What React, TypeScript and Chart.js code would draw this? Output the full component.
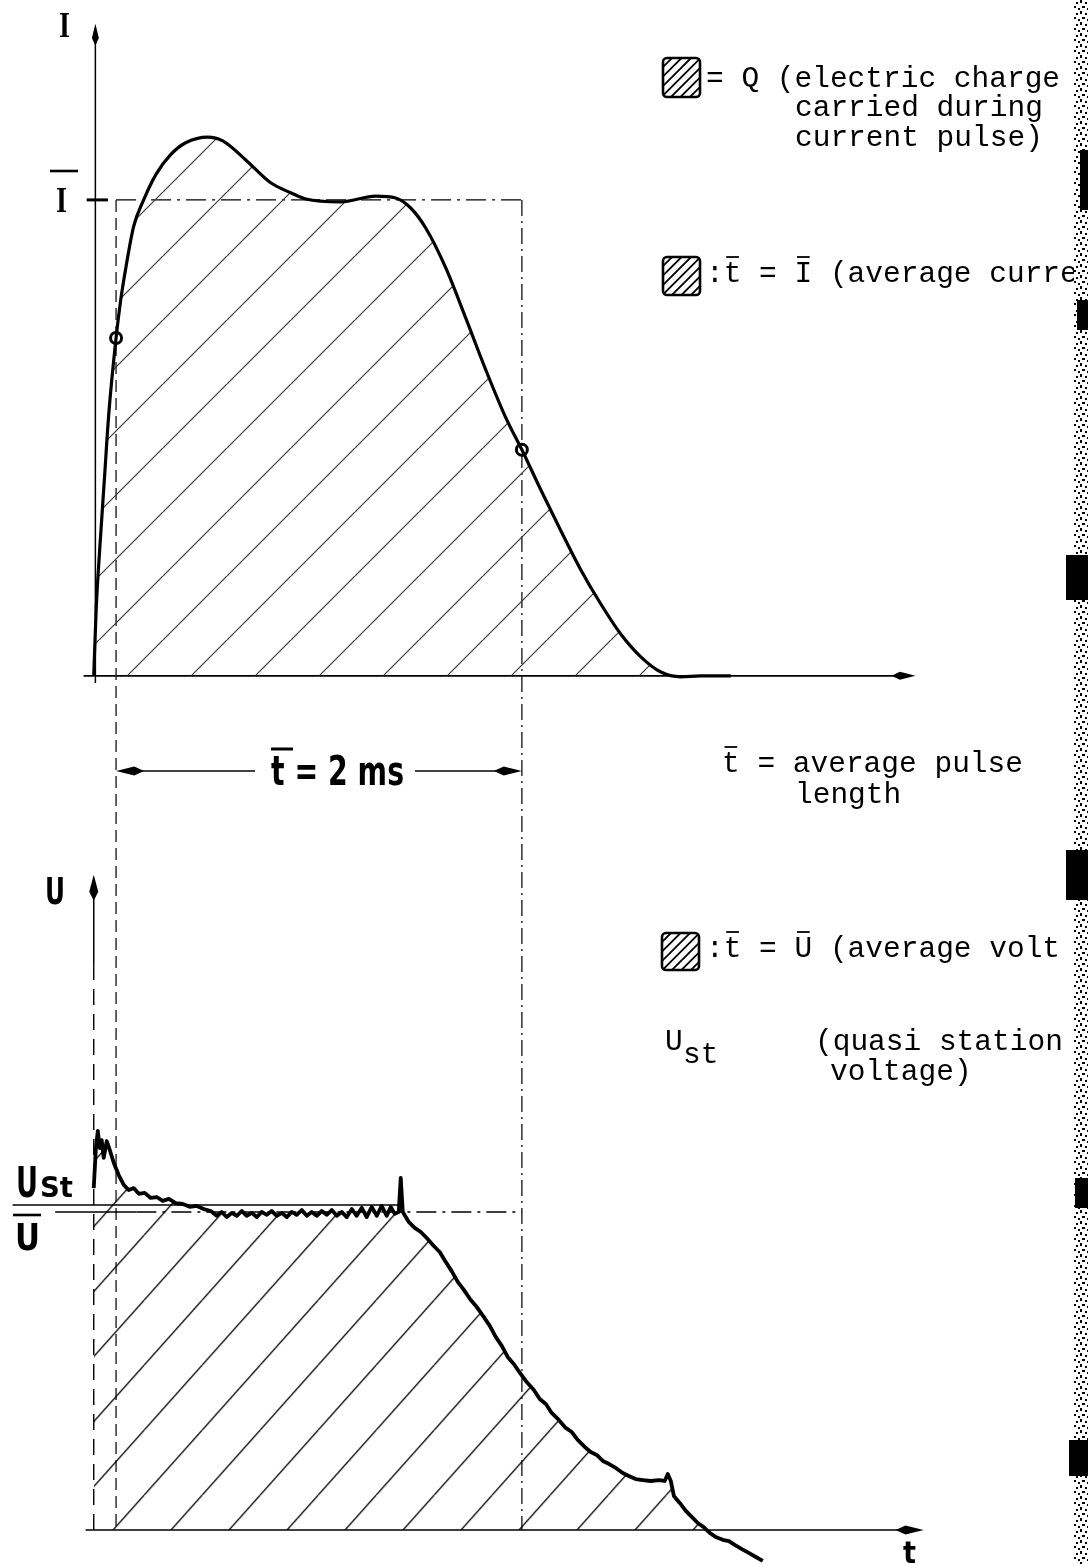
import React, { useEffect, useRef } from "react";
import { Chart, registerables } from "chart.js";

Chart.register(...registerables);

// ---------------- data (t in ms, I and U normalised to their averages) ----------------
const currentT = [0, 0.012, 0.03, 0.052, 0.074, 0.11, 0.133, 0.158, 0.197, 0.246, 0.306, 0.379, 0.453, 0.562, 0.636, 0.749, 0.872, 0.971, 1.045, 1.217, 1.39, 1.488, 1.562, 1.636, 1.735, 1.833, 1.932, 2.031, 2.11, 2.203, 2.302, 2.4, 2.499, 2.597, 2.696, 2.795, 2.893, 2.992, 3.14];
const currentI = [0, 0.14, 0.27, 0.41, 0.55, 0.71, 0.79, 0.857, 0.945, 1.0, 1.053, 1.095, 1.12, 1.132, 1.124, 1.084, 1.036, 1.015, 1.002, 0.996, 1.008, 1.004, 0.983, 0.941, 0.857, 0.752, 0.643, 0.542, 0.475, 0.391, 0.305, 0.223, 0.151, 0.088, 0.04, 0.008, -0.002, 0, 0];

const voltageT = [0, 0.01, 0.02, 0.03, 0.039, 0.049, 0.064, 0.079, 0.099, 0.123, 0.148, 0.172, 0.197, 0.222, 0.251, 0.281, 0.31, 0.34, 0.37, 0.404, 0.439, 0.473, 0.508, 0.542, 0.577,
  0.606, 0.631, 0.655, 0.68, 0.705, 0.729, 0.754, 0.779, 0.803, 0.828, 0.853, 0.877, 0.902, 0.927, 0.951, 0.976, 1.0, 1.025, 1.05, 1.074, 1.099, 1.124, 1.148, 1.173, 1.198, 1.222, 1.247, 1.272, 1.296, 1.321, 1.345, 1.37, 1.395, 1.419, 1.444, 1.464, 1.483, 1.503, 1.513, 1.523,
  1.552, 1.582, 1.612, 1.641, 1.676, 1.705, 1.735, 1.764, 1.794, 1.824, 1.858, 1.888, 1.922, 1.952, 1.981, 2.011, 2.04, 2.07, 2.104, 2.134, 2.169, 2.198, 2.228, 2.257, 2.292, 2.326, 2.356, 2.385, 2.42, 2.449, 2.479, 2.509, 2.538, 2.573, 2.607, 2.637, 2.671, 2.706, 2.745, 2.785, 2.814, 2.829, 2.844, 2.859, 2.888, 2.918, 2.947, 2.977, 3.006, 3.036, 3.065, 3.1, 3.13, 3.159, 3.194, 3.228, 3.263, 3.297];
const voltageU = [1.075, 1.195, 1.255, 1.201, 1.226, 1.17, 1.223, 1.195, 1.154, 1.116, 1.085, 1.069, 1.075, 1.057, 1.06, 1.044, 1.047, 1.035, 1.041, 1.028, 1.025, 1.016, 1.019, 1.009, 1.003,
  0.988, 1.0, 0.984, 0.997, 0.988, 1.003, 0.988, 0.997, 0.984, 1.0, 0.991, 1.003, 0.988, 0.997, 0.984, 1.0, 0.991, 1.006, 0.988, 1.0, 0.988, 1.003, 0.991, 1.006, 0.988, 1.0, 0.984, 1.009, 0.988, 1.013, 0.984, 1.016, 0.988, 1.019, 0.988, 1.016, 0.994, 1.0, 1.107, 1.0,
  0.969, 0.95, 0.937, 0.918, 0.893, 0.874, 0.843, 0.814, 0.78, 0.755, 0.723, 0.701, 0.67, 0.642, 0.607, 0.579, 0.544, 0.522, 0.491, 0.465, 0.44, 0.412, 0.396, 0.368, 0.346, 0.321, 0.308, 0.283, 0.261, 0.245, 0.236, 0.217, 0.208, 0.195, 0.179, 0.17, 0.16, 0.157, 0.154, 0.157, 0.154, 0.176, 0.154, 0.107, 0.085, 0.06, 0.041, 0.022, 0.009, -0.009, -0.022, -0.031, -0.035, -0.047, -0.06, -0.072, -0.085, -0.097];

const markerT = [0.11, 2.11];
const markerI = [0.71, 0.475];

const PULSE_START = 0.11; // ms
const PULSE_END = 2.11; // ms  (t̄ = 2 ms)
const I_AVG = 1.0;
const U_AVG = 1.0;
const U_ST = 1.022;

// axis ranges
const T_MIN = -0.462;
const T_MAX = 4.9;
const I_MIN = -1.866;
const I_MAX = 1.42;
const U_MIN = -0.107;
const U_MAX = 4.811;

// text
const DIM_LABEL = "t = 2 ms";
const LEGEND_Q = ["= Q (electric charge", "carried during", "current pulse)"];
const LEGEND_I = ":t = I (average current)";
const LEGEND_T = ["t = average pulse", "length"];
const LEGEND_U = ":t = U (average voltage)";
const LEGEND_UST = ["(quasi stationary", "voltage)"];

const MONO = '29.5px "Liberation Mono", "DejaVu Sans Mono", monospace';
const CH = 17.7;

function makeHatch(w: number, h: number, color: string, lw: number, dx: number) {
  const c = document.createElement("canvas");
  c.width = w;
  c.height = h;
  const g = c.getContext("2d")!;
  g.strokeStyle = color;
  g.lineWidth = lw;
  for (const o of [-w, 0, w]) {
    g.beginPath();
    g.moveTo(o, h);
    g.lineTo(o + w, 0);
    g.stroke();
  }
  const p = g.createPattern(c, "repeat")!;
  try {
    p.setTransform(new DOMMatrix([1, 0, 0, 1, dx, 0]));
  } catch (e) {}
  return p;
}

function makeSpeckle() {
  const c = document.createElement("canvas");
  c.width = 9;
  c.height = 11;
  const g = c.getContext("2d")!;
  g.fillStyle = "#000";
  g.fillRect(0, 0, 2, 3);
  g.fillRect(5, 2, 2, 2);
  g.fillRect(2, 6, 3, 2);
  g.fillRect(7, 8, 2, 2);
  return g.createPattern(c, "repeat")!;
}

function seg(ctx: CanvasRenderingContext2D, x1: number, y1: number, x2: number, y2: number, w: number, dash: number[] = []) {
  ctx.beginPath();
  ctx.setLineDash(dash);
  ctx.lineWidth = w;
  ctx.moveTo(x1, y1);
  ctx.lineTo(x2, y2);
  ctx.stroke();
  ctx.setLineDash([]);
}

function arrow(ctx: CanvasRenderingContext2D, tx: number, ty: number, dx: number, dy: number, len: number, half: number) {
  const px = -dy;
  const py = dx;
  const mx = tx - dx * len * 0.65;
  const my = ty - dy * len * 0.65;
  ctx.beginPath();
  ctx.moveTo(tx, ty);
  ctx.lineTo(mx + px * half, my + py * half);
  ctx.lineTo(tx - dx * len, ty - dy * len);
  ctx.lineTo(mx - px * half, my - py * half);
  ctx.closePath();
  ctx.fill();
}

function fitText(ctx: CanvasRenderingContext2D, text: string, font: string, x: number, base: number, w: number) {
  ctx.save();
  ctx.font = font;
  ctx.textAlign = "left";
  ctx.textBaseline = "alphabetic";
  const m = ctx.measureText(text).width;
  ctx.translate(x, base);
  ctx.scale(w / m, 1);
  ctx.fillText(text, 0, 0);
  ctx.restore();
}

function monoText(ctx: CanvasRenderingContext2D, text: string, x: number, base: number, overIdx: number[] = [], maxX = 1088) {
  ctx.save();
  ctx.beginPath();
  ctx.rect(0, base - 40, maxX, 60);
  ctx.clip();
  ctx.font = MONO;
  ctx.textAlign = "left";
  ctx.textBaseline = "alphabetic";
  ctx.fillText(text, x, base);
  for (const k of overIdx) {
    seg(ctx, x + k * CH + 2.5, base - 25, x + (k + 1) * CH - 2.5, base - 25, 1.8);
  }
  ctx.restore();
}

function hatchBox(ctx: CanvasRenderingContext2D, x: number, y: number, w: number, h: number) {
  ctx.save();
  ctx.beginPath();
  ctx.roundRect(x, y, w, h, 4);
  ctx.lineWidth = 2.6;
  ctx.stroke();
  ctx.clip();
  ctx.lineWidth = 1.8;
  for (let c = 9; c < w + h; c += 9.5) {
    ctx.beginPath();
    ctx.moveTo(x + c - h, y + h);
    ctx.lineTo(x + c, y);
    ctx.stroke();
  }
  ctx.restore();
}

const figurePlugin = {
  id: "figure",
  beforeDatasetsDraw(chart: any) {
    const ctx: CanvasRenderingContext2D = chart.ctx;
    const X = (t: number) => chart.scales.x.getPixelForValue(t);
    const YI = (v: number) => chart.scales.yI.getPixelForValue(v);
    const YU = (v: number) => chart.scales.yU.getPixelForValue(v);
    ctx.save();
    ctx.strokeStyle = "#000";
    ctx.fillStyle = "#000";

    // ---- top panel axes ----
    seg(ctx, X(0.008), YI(-0.015), X(0.008), YI(1.37) + 12, 1.5);
    arrow(ctx, X(0.008), YI(1.37), 0, -1, 22, 3.5);
    seg(ctx, X(-0.05), YI(0), X(4.05) - 10, YI(0), 1.6);
    arrow(ctx, X(4.05), YI(0), 1, 0, 24, 4);

    // Ī level and average rectangle
    seg(ctx, X(-0.035), YI(I_AVG), X(0.07), YI(I_AVG), 3);
    seg(ctx, X(PULSE_START), YI(I_AVG), X(PULSE_END), YI(I_AVG), 1.4, [20, 6, 3, 6]);

    // pulse limits running through both panels
    ctx.strokeStyle = "#222";
    seg(ctx, X(PULSE_START), YI(I_AVG), X(PULSE_START), YU(0), 1.4, [12, 6]);
    seg(ctx, X(PULSE_END), YI(I_AVG), X(PULSE_END), YU(0), 1.4, [16, 5, 2, 5]);
    ctx.strokeStyle = "#000";

    // dimension line t̄ = 2 ms
    const yd = YI(-0.2);
    const xs = X(PULSE_START);
    const xe = X(PULSE_END);
    seg(ctx, xs + 8, yd, 255, yd, 1.6);
    seg(ctx, 415, yd, xe - 8, yd, 1.6);
    arrow(ctx, xs, yd, -1, 0, 28, 4.5);
    arrow(ctx, xe, yd, 1, 0, 28, 4.5);

    // ---- bottom panel axes ----
    seg(ctx, X(0), YU(2.06) + 12, X(0), YU(1.78), 1.5);
    seg(ctx, X(0), YU(1.78), X(0), YU(0), 1.4, [16, 9]);
    arrow(ctx, X(0), YU(2.06), 0, -1, 26, 4.5);
    seg(ctx, X(-0.04), YU(0), X(4.09) - 10, YU(0), 1.6);
    arrow(ctx, X(4.09), YU(0), 1, 0, 28, 4.5);

    // U_st and Ū levels
    seg(ctx, X(-0.4), YU(U_ST), X(1.513), YU(U_ST), 1.6);
    seg(ctx, X(-0.19), YU(U_AVG), X(0.21), YU(U_AVG), 1.6);
    seg(ctx, X(0.21), YU(U_AVG), X(PULSE_END), YU(U_AVG), 1.4, [20, 6, 3, 6]);
    ctx.restore();
  },
  afterDraw(chart: any) {
    const ctx: CanvasRenderingContext2D = chart.ctx;
    ctx.save();
    ctx.fillStyle = "#000";
    ctx.strokeStyle = "#000";

    // axis labels
    fitText(ctx, "I", 'bold 36px "Liberation Serif", serif', 59, 37, 11);
    seg(ctx, 50, 171, 78, 171, 2.6);
    fitText(ctx, "I", 'bold 36px "Liberation Serif", serif', 56, 212, 11);
    fitText(ctx, "U", 'bold 38px "DejaVu Sans", sans-serif', 45, 904, 20);
    fitText(ctx, "U", 'bold 42px "DejaVu Sans", sans-serif', 16, 1197, 22);
    fitText(ctx, "St", 'bold 29px "DejaVu Sans", sans-serif', 40, 1197, 33);
    seg(ctx, 13, 1215, 41, 1215, 2.6);
    fitText(ctx, "U", 'bold 38px "DejaVu Sans", sans-serif', 15, 1250, 25);
    fitText(ctx, "t", 'bold 30px "DejaVu Sans", sans-serif', 903, 1563, 13);

    // dimension label
    fitText(ctx, DIM_LABEL, 'bold 40px "DejaVu Sans", sans-serif', 271, 785, 133);
    seg(ctx, 271, 749, 293, 749, 3);

    // right-hand legend (clipped by the scanned page edge)
    hatchBox(ctx, 663, 58, 37, 39);
    monoText(ctx, LEGEND_Q[0], 706, 87, [], 1070);
    monoText(ctx, LEGEND_Q[1], 795, 116, [], 1070);
    monoText(ctx, LEGEND_Q[2], 795, 146, [], 1070);
    hatchBox(ctx, 663, 257, 37, 38);
    monoText(ctx, LEGEND_I, 706, 282, [1, 5], 1074);
    monoText(ctx, LEGEND_T[0], 722, 772, [0], 1070);
    monoText(ctx, LEGEND_T[1], 795, 803, [], 1070);
    hatchBox(ctx, 662, 933, 37, 37);
    monoText(ctx, LEGEND_U, 706, 957, [1, 5], 1061);
    monoText(ctx, "U", 665, 1050);
    monoText(ctx, "st", 683, 1063);
    monoText(ctx, LEGEND_UST[0], 815, 1050, [], 1064);
    monoText(ctx, LEGEND_UST[1], 830, 1080, [], 1064);

    // scanned page edge
    ctx.fillStyle = makeSpeckle();
    ctx.fillRect(1074, 0, 14, 1564);
    ctx.fillStyle = "#000";
    const blocks = [[1080, 150, 8, 60], [1077, 300, 11, 30], [1066, 555, 22, 45], [1066, 850, 22, 50], [1075, 1178, 13, 30], [1069, 1440, 19, 36]];
    for (const b of blocks) ctx.fillRect(b[0], b[1], b[2], b[3]);
    ctx.restore();
  },
};

export default function App() {
  const ref = useRef<HTMLCanvasElement>(null);
  useEffect(() => {
    const canvas = ref.current;
    if (!canvas) return;
    const hatchTop = makeHatch(64, 64, "#3a3a3a", 1.2, 35);
    const hatchBottom = makeHatch(58, 65, "#000", 1.3, 28.2);
    const chart = new Chart(canvas, {
      type: "line",
      data: {
        datasets: [
          {
            label: "I",
            data: currentT.map((t, i) => ({ x: t, y: currentI[i] })),
            yAxisID: "yI",
            borderColor: "#000",
            borderWidth: 3.2,
            pointRadius: 0,
            cubicInterpolationMode: "monotone",
            fill: { target: "origin", above: hatchTop, below: "rgba(0,0,0,0)" },
          } as any,
          {
            label: "U",
            data: voltageT.map((t, i) => ({ x: t, y: voltageU[i] })),
            yAxisID: "yU",
            borderColor: "#000",
            borderWidth: 3.8,
            borderJoinStyle: "round",
            pointRadius: 0,
            tension: 0,
            fill: { target: "origin", above: hatchBottom, below: "rgba(0,0,0,0)" },
          } as any,
          {
            label: "markers",
            type: "scatter",
            data: markerT.map((t, i) => ({ x: t, y: markerI[i] })),
            yAxisID: "yI",
            showLine: false,
            pointRadius: 5.5,
            pointBorderWidth: 3,
            pointBorderColor: "#000",
            pointBackgroundColor: "#fff",
          } as any,
        ],
      },
      options: {
        animation: false,
        responsive: false,
        maintainAspectRatio: false,
        events: [],
        layout: { padding: 0, autoPadding: false },
        plugins: { legend: { display: false }, tooltip: { enabled: false } },
        scales: {
          x: { type: "linear", min: T_MIN, max: T_MAX, display: false },
          yI: { type: "linear", position: "left", min: I_MIN, max: I_MAX, display: false },
          yU: { type: "linear", position: "left", min: U_MIN, max: U_MAX, display: false },
        },
      } as any,
      plugins: [figurePlugin],
    });
    return () => chart.destroy();
  }, []);
  return (
    <div style={{ position: "absolute", left: 0, top: 0, width: 1088, height: 1564, background: "#fff", overflow: "hidden" }}>
      <canvas ref={ref} width={1088} height={1564} style={{ display: "block", width: 1088, height: 1564 }} />
    </div>
  );
}
